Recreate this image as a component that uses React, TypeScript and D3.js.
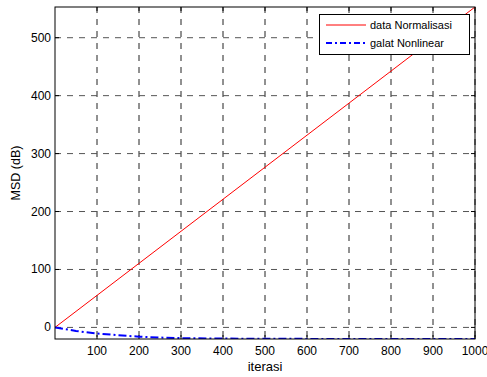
import React from "react";
import * as d3 from "d3";

const xTicks = [100, 200, 300, 400, 500, 600, 700, 800, 900, 1000];
const yTicks = [0, 100, 200, 300, 400, 500];

const redIter = [0, 500, 1000];
const redVals = [0, 276.5, 553];

const blueIter = [0, 25, 50, 75, 100, 150, 200, 250, 300, 400, 500, 600, 700, 800, 900, 1000];
const blueVals = [0, -3, -6, -8.5, -10.5, -13.5, -16, -17.5, -18.5, -19.3, -19.6, -19.8, -19.9, -20, -20, -20];

const seriesNames = ["data Normalisasi", "galat Nonlinear"];

const W = 487, H = 377;
const L = 55, R = 475, T = 7, B = 339;

export default function App() {
  const x = d3.scaleLinear().domain([0, 1000]).range([L, R]);
  const y = d3.scaleLinear().domain([-20, 553]).range([B, T]);
  const line = d3.line<number>();
  const redPts = redIter.map((v, i) => [x(v), y(redVals[i])] as [number, number]);
  const bluePts = blueIter.map((v, i) => [x(v), y(blueVals[i])] as [number, number]);
  const font = "Liberation Sans, Arial, sans-serif";
  return (
    <svg width={W} height={H} style={{ position: "absolute", left: 0, top: 0 }} fontFamily={font}>
      <rect x={0} y={0} width={W} height={H} fill="#fff" />
      <defs>
        <clipPath id="plot">
          <rect x={L} y={T} width={R - L} height={B - T} />
        </clipPath>
      </defs>
      {/* grid */}
      {xTicks.map((t) => (
        <line key={"gx" + t} x1={x(t)} x2={x(t)} y1={T} y2={B} stroke="#222" strokeDasharray="6,6" strokeWidth={1} />
      ))}
      {yTicks.map((t) => (
        <line key={"gy" + t} x1={L} x2={R} y1={y(t)} y2={y(t)} stroke="#555" strokeDasharray="6,6" strokeWidth={1} />
      ))}
      {/* ticks */}
      {xTicks.map((t) => (
        <g key={"tx" + t}>
          <line x1={x(t)} x2={x(t)} y1={B} y2={B - 4} stroke="#000" />
          <line x1={x(t)} x2={x(t)} y1={T} y2={T + 4} stroke="#000" />
          <text x={x(t)} y={B + 16} fontSize={12} textAnchor="middle" fill="#000">{t}</text>
        </g>
      ))}
      {yTicks.map((t) => (
        <g key={"ty" + t}>
          <line x1={L} x2={L + 4} y1={y(t)} y2={y(t)} stroke="#000" />
          <line x1={R} x2={R - 4} y1={y(t)} y2={y(t)} stroke="#000" />
          <text x={L - 4} y={y(t) + 4} fontSize={12} textAnchor="end" fill="#000">{t}</text>
        </g>
      ))}
      {/* data */}
      <g clipPath="url(#plot)">
        <path d={line(redPts as any) || ""} fill="none" stroke="#ff0000" strokeWidth={1} />
        <path d={line(bluePts as any) || ""} fill="none" stroke="#0000ff" strokeWidth={2} strokeDasharray="8,3,2,3" />
      </g>
      {/* axes box */}
      <rect x={L} y={T} width={R - L} height={B - T} fill="none" stroke="#000" strokeWidth={1} />
      {/* labels */}
      <text x={(L + R) / 2} y={371} fontSize={13} textAnchor="middle" fill="#000">iterasi</text>
      <text transform={`translate(20,${(T + B) / 2}) rotate(-90)`} fontSize={12.5} textAnchor="middle" fill="#000">MSD (dB)</text>
      {/* legend */}
      <rect x={319.5} y={14.5} width={150} height={40} fill="#fff" stroke="#000" strokeWidth={1} />
      <line x1={326} x2={366} y1={25} y2={25} stroke="#ff0000" strokeWidth={1} />
      <text x={370} y={29} fontSize={11} fill="#000">{seriesNames[0]}</text>
      <line x1={326} x2={366} y1={43} y2={43} stroke="#0000ff" strokeWidth={2} strokeDasharray="6,3,2,3" />
      <text x={370} y={47} fontSize={11} fill="#000">{seriesNames[1]}</text>
    </svg>
  );
}
